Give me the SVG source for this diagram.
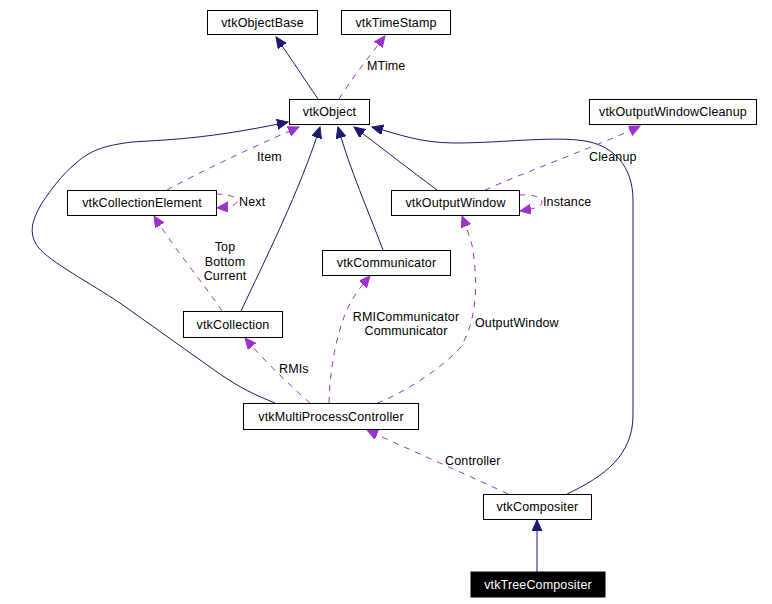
<svg xmlns="http://www.w3.org/2000/svg" width="772" height="604" viewBox="0 0 772 604">
<defs>
<style>
.box{fill:#fff;stroke:#000;stroke-width:1}
.t{font-family:"Liberation Sans",Arial,sans-serif;font-size:12.5px;letter-spacing:0.15px;fill:#000;text-anchor:middle}
.l{font-family:"Liberation Sans",Arial,sans-serif;font-size:12.5px;letter-spacing:0.15px;fill:#000}
.inh{fill:none;stroke:#191970;stroke-width:1;marker-end:url(#ab)}
.use{fill:none;stroke:#9a32cd;stroke-width:1;stroke-dasharray:6,6;marker-end:url(#ap)}
</style>
<marker id="ab" markerUnits="userSpaceOnUse" markerWidth="12" markerHeight="12" refX="11" refY="5" orient="auto"><path d="M0,0 L11,5 L0,10 z" fill="#191970" stroke="#191970"/></marker>
<marker id="ap" markerUnits="userSpaceOnUse" markerWidth="12" markerHeight="12" refX="11" refY="5" orient="auto"><path d="M0,0 L11,5 L0,10 z" fill="#9a32cd" stroke="#9a32cd"/></marker>
</defs>
<rect width="772" height="604" fill="#fff"/>
<g id="connectors">
<path class="inh" d="M318,99 C305,80 292,60 276,37"/>
<path class="use" d="M339,99 C352,78 368,58 385,36"/>
<path class="use" d="M167,190 C200,172 250,148 299,127"/>
<path class="inh" d="M241,311 C265,260 300,190 320,127"/>
<path class="inh" d="M383,250 C368,210 350,170 338,127"/>
<path class="inh" d="M437,190 C410,170 382,148 354,127"/>
<path class="inh" d="M567,494 C605,476 633,455 633,415 L633,200 C633,165 612,147 590,142 C560,135 505,143 455,143 C420,143 398,134 372,127"/>
<path class="inh" d="M275,403 C255,395 240,388 217,372 L120,303 C90,283 50,262 38,247 C28,233 32,220 42,203 C52,188 62,175 75,164 C92,148 110,145 132,142 L165,140 C210,137 250,130 288,122"/>
<path class="use" d="M222,311 C205,285 175,250 154,216"/>
<path class="use" d="M216,194 C228,194 237,197 237,201 C237,205 230,207 217,208"/>
<path class="use" d="M519,195 C532,194 542,197 542,202 C542,207 533,209 520,211"/>
<path class="use" d="M485,190 C530,170 600,145 640,126"/>
<path class="use" d="M310,403 C295,390 265,362 245,338"/>
<path class="use" d="M329,403 C330,360 340,320 352,300 C358,290 364,283 370,276"/>
<path class="use" d="M377,403 C400,395 440,370 460,348 C478,320 478,280 472,245 C469,235 466,226 462,216"/>
<path class="use" d="M508,494 C470,476 410,450 367,430"/>
<path class="inh" d="M537,572 L537,520"/>
</g>
<g id="labels">
<text class="l" x="367" y="70">MTime</text>
<text class="l" x="257" y="161">Item</text>
<text class="l" x="239" y="206">Next</text>
<text class="l" x="543" y="206">Instance</text>
<text class="l" x="589" y="161">Cleanup</text>
<text class="t" x="225" y="251">Top</text>
<text class="t" x="225" y="266">Bottom</text>
<text class="t" x="225" y="280">Current</text>
<text class="l" x="279" y="373">RMIs</text>
<text class="t" x="406" y="321">RMICommunicator</text>
<text class="t" x="406" y="335">Communicator</text>
<text class="l" x="475" y="327">OutputWindow</text>
<text class="l" x="445" y="465">Controller</text>
</g>
<g id="vtkObjectBase"><rect class="box" x="207.5" y="10.5" width="110" height="24"/><text class="t" x="262.5" y="27">vtkObjectBase</text></g>
<g id="vtkTimeStamp"><rect class="box" x="341.5" y="10.5" width="109" height="24"/><text class="t" x="396" y="27">vtkTimeStamp</text></g>
<g id="vtkObject"><rect class="box" x="289.5" y="99.5" width="80" height="25"/><text class="t" x="329.5" y="116">vtkObject</text></g>
<g id="vtkOutputWindowCleanup"><rect class="box" x="589.5" y="99.5" width="167" height="25"/><text class="t" x="673" y="116">vtkOutputWindowCleanup</text></g>
<g id="vtkCollectionElement"><rect class="box" x="67.5" y="190.5" width="149" height="25"/><text class="t" x="142" y="207">vtkCollectionElement</text></g>
<g id="vtkOutputWindow"><rect class="box" x="391.5" y="190.5" width="128" height="25"/><text class="t" x="455.5" y="207">vtkOutputWindow</text></g>
<g id="vtkCommunicator"><rect class="box" x="322.5" y="250.5" width="128" height="25"/><text class="t" x="386.5" y="267">vtkCommunicator</text></g>
<g id="vtkCollection"><rect class="box" x="183.5" y="311.5" width="99" height="26"/><text class="t" x="233" y="329">vtkCollection</text></g>
<g id="vtkMultiProcessController"><rect class="box" x="243.5" y="403.5" width="175" height="26"/><text class="t" x="331" y="421">vtkMultiProcessController</text></g>
<g id="vtkCompositer"><rect class="box" x="483.5" y="494.5" width="108" height="25"/><text class="t" x="537.5" y="511">vtkCompositer</text></g>
<g id="vtkTreeCompositer"><rect x="471" y="572" width="134" height="25" fill="#000" stroke="#000"/><text class="t" x="538" y="589" style="fill:#fff">vtkTreeCompositer</text></g>
</svg>
